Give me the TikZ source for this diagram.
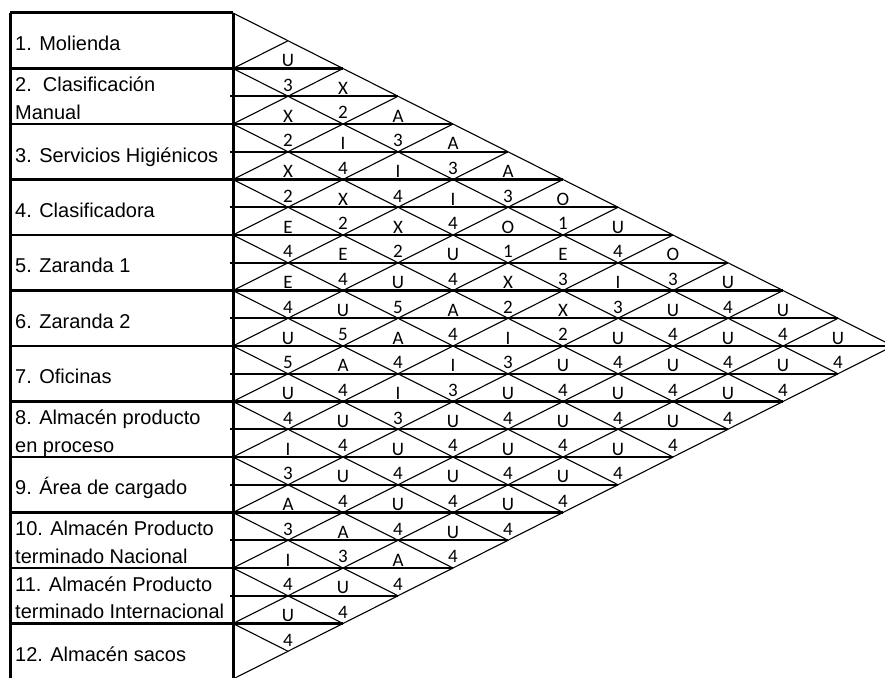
\documentclass[tikz,border=0pt]{standalone}
\usepackage{fontspec}
\setmainfont{Liberation Sans}
\newfontfamily\codefont{Carlito}
\begin{document}
\begin{tikzpicture}[
    x=1pt, y=-1pt,
    dept/.style={anchor=base west, inner sep=0pt,
                 font=\fontsize{20}{24}\selectfont},
    code/.style={inner sep=0pt, font=\codefont\fontsize{19}{21}\selectfont},
    frame/.style={draw=black, line width=3pt},
    row/.style={draw=black, line width=2.3pt},
    diag/.style={draw=black, line width=1.1pt},
  ]
    \useasboundingbox (0,0) rectangle (885,677);
    % --- diagonal grid ----------------------------------------------------
    \foreach \n in {0,...,11}
      \draw[diag] (233,13+55.5*\n) -- ++(55*12-55*\n,27.75*12-27.75*\n);
    \foreach \n in {1,...,12}
      \draw[diag] (233,13+55.5*\n) -- ++(55*\n,-27.75*\n);
    % --- horizontal lines -------------------------------------------------
    \foreach \k in {2,4,...,22}{
      \pgfmathsetmacro\ylev{13+27.75*\k}
      \pgfmathsetmacro\xend{233+55*min(\k,24-\k)}
      \draw[row] (10,\ylev) -- (\xend,\ylev);
    }
    \foreach \k in {3,5,...,21}{
      \pgfmathsetmacro\ylev{13+27.75*\k}
      \pgfmathsetmacro\xend{233+55*min(\k,24-\k)}
      \draw[row] (230,\ylev) -- (\xend,\ylev);
    }
    % --- department column ------------------------------------------------
    \draw[frame] (10,13) -- (233,13);
    \draw[frame] (10,13) -- (10,679);
    \draw[frame] (233,13) -- (233,679);
    \node[dept] (d1)  at (15,50.5)  {1. Molienda};
    \node[dept] (d2)  at (15,91.5)  {2.\ \ Clasificación};
    \node[dept] (d2b) at (15,119)   {Manual};
    \node[dept] (d3)  at (15,162)   {3. Servicios Higiénicos};
    \node[dept] (d4)  at (15,217)   {4. Clasificadora};
    \node[dept] (d5)  at (15,272.5) {5. Zaranda 1};
    \node[dept] (d6)  at (15,328)   {6. Zaranda 2};
    \node[dept] (d7)  at (15,383.5) {7. Oficinas};
    \node[dept] (d8)  at (15,424.5) {8. Almacén producto};
    \node[dept] (d8b) at (15,452)   {en proceso};
    \node[dept] (d9)  at (15,494.5) {9. Área de cargado};
    \node[dept] (d10) at (15,535.5) {10. Almacén Producto};
    \node[dept] (d10b) at (15,563)  {terminado Nacional};
    \node[dept] (d11) at (15,591)   {11. Almacén Producto};
    \node[dept] (d11b) at (15,618.5) {terminado Internacional};
    \node[dept] (d12) at (15,661)   {12. Almacén sacos};
    % --- relationship codes: pair / letter / reason -----------------------
    \foreach \i/\j/\r/\v in {
        1/2/U/3, 1/3/X/2, 1/4/A/3, 1/5/A/3, 1/6/A/3, 1/7/O/1,
        1/8/U/4, 1/9/O/3, 1/10/U/4, 1/11/U/4, 1/12/U/4,
        2/3/X/2, 2/4/I/4, 2/5/I/4, 2/6/I/4, 2/7/O/1, 2/8/E/3,
        2/9/I/3, 2/10/U/4, 2/11/U/4, 2/12/U/4,
        3/4/X/2, 3/5/X/2, 3/6/X/2, 3/7/U/4, 3/8/X/2, 3/9/X/2,
        3/10/U/4, 3/11/U/4, 3/12/U/4,
        4/5/E/4, 4/6/E/4, 4/7/U/5, 4/8/A/4, 4/9/I/3, 4/10/U/4,
        4/11/U/4, 4/12/U/4,
        5/6/E/4, 5/7/U/5, 5/8/A/4, 5/9/I/3, 5/10/U/4, 5/11/U/4, 5/12/U/4,
        6/7/U/5, 6/8/A/4, 6/9/I/3, 6/10/U/4, 6/11/U/4, 6/12/U/4,
        7/8/U/4, 7/9/U/4, 7/10/U/4, 7/11/U/4, 7/12/U/4,
        8/9/I/3, 8/10/U/4, 8/11/U/4, 8/12/U/4,
        9/10/A/3, 9/11/A/3, 9/12/A/4,
        10/11/I/4, 10/12/U/4,
        11/12/U/4}{
      \pgfmathsetmacro\cx{233+55*(\j-\i)}
      \pgfmathsetmacro\cy{13+27.75*(\i+\j-1)}
      \node[code] (r\i-\j) at (\cx,\cy-8)    {\r};
      \node[code] (v\i-\j) at (\cx,\cy+16.5) {\v};
    }
  \end{tikzpicture}
\end{document}
